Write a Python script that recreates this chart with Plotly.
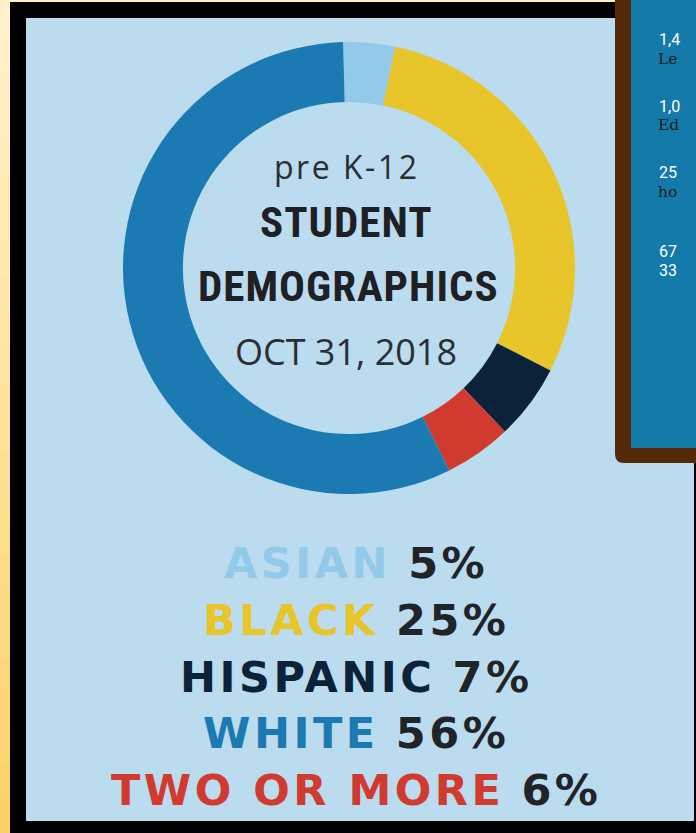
import plotly.graph_objects as go

W, H = 696, 833

# ---- data ----
ring_labels = ["ASIAN", "BLACK", "HISPANIC", "TWO OR MORE", "WHITE"]   # clockwise from 12 o'clock
ring_share = [3.7, 29.2, 5.4, 4.8, 56.9]                                # arc sizes as drawn in the ring (%)
legend_labels = ["ASIAN", "BLACK", "HISPANIC", "WHITE", "TWO OR MORE"]
legend_pct = [5, 25, 7, 56, 6]
center_lines = ["pre K-12", "STUDENT", "DEMOGRAPHICS", "OCT 31, 2018"]
side_numbers = ["1,4", "1,0", "25", "67"]
side_words = ["Le", "Ed", "ho", "33"]

colors = {
    "ASIAN": "#93CAEA",
    "BLACK": "#E8C52B",
    "HISPANIC": "#0C2239",
    "TWO OR MORE": "#D03A2F",
    "WHITE": "#1A7AB1",
}
PANEL = "#BBDBEE"
DARK = "#202327"


def px(x):
    return x / W


def py(y):
    return 1 - y / H


shapes = []


def rect(x0, y0, x1, y1, color, layer="below"):
    shapes.append(dict(type="rect", xref="paper", yref="paper",
                       x0=px(x0), x1=px(x1), y0=py(y1), y1=py(y0),
                       fillcolor=color, line=dict(width=0), layer=layer))


# left gradient strip
n = 24
c0 = (255, 241, 203)
c1 = (250, 210, 104)
for i in range(n):
    t = i / (n - 1)
    c = tuple(int(round(a + (b - a) * t)) for a, b in zip(c0, c1))
    rect(0, H * i / n, 10, H * (i + 1) / n + 1, "rgb(%d,%d,%d)" % c)
rect(0, 0, 615, 2, "#FFEFC6")
# light blue panel
rect(26, 18, 694, 821, PANEL)


def rounded_box(x0, y0, x1, y1, r, color):
    path = (f"M {px(x0)},{py(y0)} L {px(x1)},{py(y0)} L {px(x1)},{py(y1)} "
            f"L {px(x0 + r)},{py(y1)} Q {px(x0)},{py(y1)} {px(x0)},{py(y1 - r)} Z")
    shapes.append(dict(type="path", xref="paper", yref="paper", path=path,
                       fillcolor=color, line=dict(width=0), layer="above"))


rounded_box(615, -5, 705, 463, 9, "#552A0B")
rect(631, -5, 705, 448, "#147AAA", layer="above")

# donut
cx, cy, R = 349, 268, 226
fig = go.Figure(go.Pie(
    labels=ring_labels, values=ring_share, sort=False, direction="clockwise",
    rotation=-1.5, hole=0.735,
    marker=dict(colors=[colors[l] for l in ring_labels], line=dict(width=0)),
    textinfo="none", hoverinfo="label", showlegend=False,
    domain=dict(x=[px(cx - R), px(cx + R)], y=[py(cy + R), py(cy - R)]),
))

ann = []


def text(x, y, s, size, color, family, anchor="center"):
    ann.append(dict(x=px(x), y=py(y), xref="paper", yref="paper", text=s,
                    showarrow=False, xanchor=anchor, yanchor="middle",
                    font=dict(size=size, color=color, family=family)))


NARROW = "Liberation Sans Narrow, Arial Narrow, Roboto Condensed, sans-serif"

# centre text
text(346, 166, f"<span style='letter-spacing:2.5px'>{center_lines[0]}</span>",
     32, "#2B2E33", "Open Sans")
text(346, 222, f"<span style='letter-spacing:1px'><b>{center_lines[1]}</b></span>",
     43, "#1E2024", NARROW)
text(348, 286, f"<span style='letter-spacing:1px'><b>{center_lines[2]}</b></span>",
     43, "#1E2024", NARROW)
text(346, 351, center_lines[3], 36, "#2B2E33", "Open Sans")

# legend lines
ys = [563, 620, 677, 733, 790]
for lab, pct, y in zip(legend_labels, legend_pct, ys):
    s = (f"<span style='letter-spacing:3.5px'>"
         f"<span style='color:{colors[lab]}'><b>{lab}</b></span>\u00a0"
         f"<span style='color:{DARK}'><b>{pct}%</b></span></span>")
    text(356, y, s, 43, DARK, "DejaVu Sans")

# clipped side box text (number line above word line)
num_y = [40, 106, 173, 251]
word_y = [59, 125, 192, 270]
for i, (num, word, y1, y2) in enumerate(zip(side_numbers, side_words, num_y, word_y)):
    text(657, y1, num, 16, "#FFFFFF", "Roboto", anchor="left")
    if i == 3:
        text(657, y2, word, 16, "#FFFFFF", "Roboto", anchor="left")
    else:
        text(656, y2, word, 15.5, "#1C1C1C", "DejaVu Serif", anchor="left")

fig.update_layout(
    width=W, height=H, autosize=False,
    margin=dict(l=0, r=0, t=0, b=0),
    paper_bgcolor="#000000", plot_bgcolor="#000000",
    shapes=shapes, annotations=ann,
)
fig.write_html("out.html", config={"displayModeBar": False},
               post_script="document.body.style.margin='0';"
                           "document.body.style.overflow='hidden';")
